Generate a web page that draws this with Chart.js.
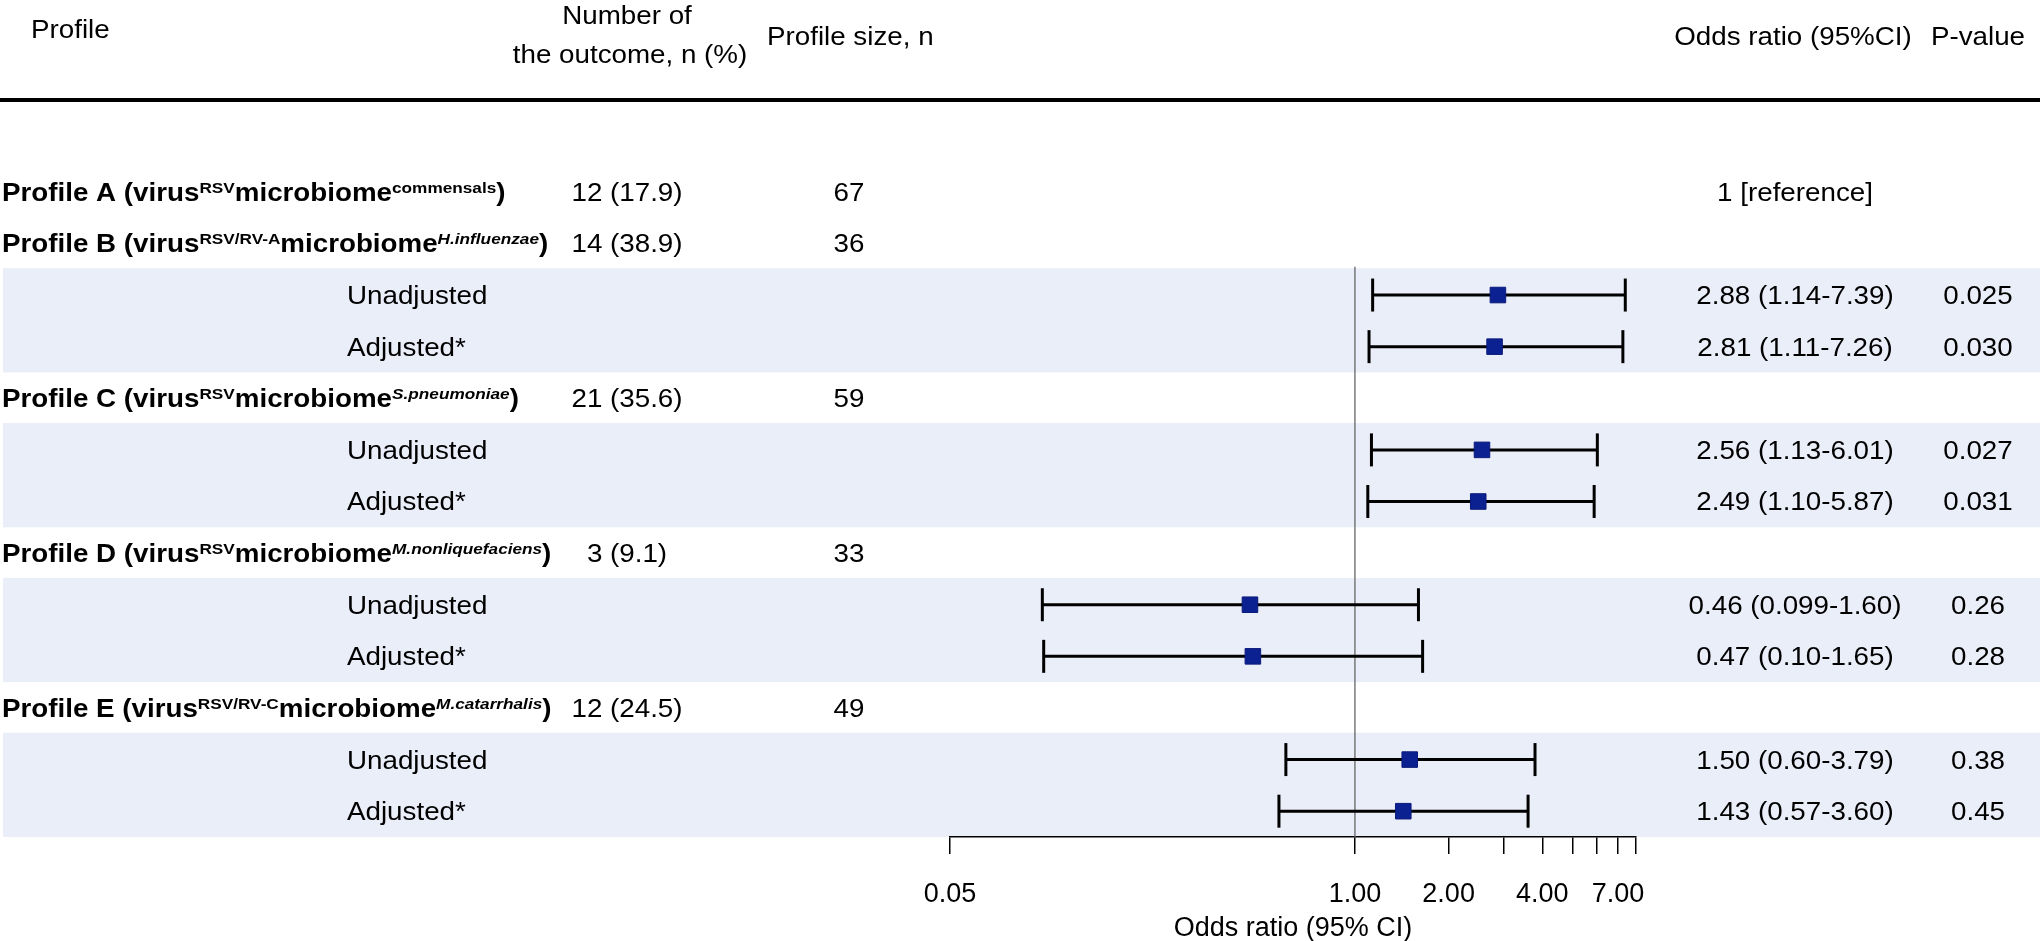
<!DOCTYPE html>
<html>
<head>
<meta charset="utf-8">
<script src="https://cdn.jsdelivr.net/npm/chart.js@4.4.0/dist/chart.umd.min.js"></script>
<style>
  html, body { margin: 0; padding: 0; background: #fff; }
  canvas { display: block; }
</style>
</head>
<body>
<canvas id="forest" width="2040" height="941"></canvas>
<script>
// table columns, one entry per profile
const profileLetters = ['A', 'B', 'C', 'D', 'E'];
const virusTags = ['RSV', 'RSV/RV-A', 'RSV', 'RSV', 'RSV/RV-C'];
const microbiomeTags = ['commensals', 'H.influenzae', 'S.pneumoniae', 'M.nonliquefaciens', 'M.catarrhalis'];
const outcomeCounts = ['12 (17.9)', '14 (38.9)', '21 (35.6)', '3 (9.1)', '12 (24.5)'];
const profileSizes = ['67', '36', '59', '33', '49'];

// odds ratios for profiles B-E vs A (reference)
const orUnadj = ['2.88', '2.56', '0.46', '1.50'];
const lowUnadj = ['1.14', '1.13', '0.099', '0.60'];
const highUnadj = ['7.39', '6.01', '1.60', '3.79'];
const pUnadj = ['0.025', '0.027', '0.26', '0.38'];
const orAdj = ['2.81', '2.49', '0.47', '1.43'];
const lowAdj = ['1.11', '1.10', '0.10', '0.57'];
const highAdj = ['7.26', '5.87', '1.65', '3.60'];
const pAdj = ['0.030', '0.031', '0.28', '0.45'];

const xTicks = [0.05, 1, 2, 3, 4, 5, 6, 7, 8];
const xTickLabels = ['0.05', '1.00', '2.00', '', '4.00', '', '', '7.00', ''];

const FAM = '"Liberation Sans", Arial, Helvetica, sans-serif';
const SX = 1.11;       // text in the table is a bit wide
const MAIN = 25;
const SUP = 15.5;

// build the rows: profile header row then Unadjusted / Adjusted* rows
const rows = [];
profileLetters.forEach(function (letter, k) {
  rows.push({ kind: 'profile', k: k });
  if (k === 0) return;
  const j = k - 1;
  rows.push({ kind: 'sub', label: 'Unadjusted', or: orUnadj[j], lo: lowUnadj[j], hi: highUnadj[j], p: pUnadj[j], k: k });
  rows.push({ kind: 'sub', label: 'Adjusted*', or: orAdj[j], lo: lowAdj[j], hi: highAdj[j], p: pAdj[j], k: k });
});
rows.forEach((r, i) => r.y = i);
const subRows = rows.filter(r => r.kind === 'sub');

// shaded bands behind the sub rows of each profile
const bands = [];
profileLetters.forEach(function (letter, k) {
  const ys = subRows.filter(r => r.k === k).map(r => r.y);
  if (ys.length) bands.push([Math.min(...ys) - 0.52, Math.max(...ys) + 0.5]);
});

const pointData = subRows.map(r => ({ x: Number(r.or), y: r.y }));
const capData = [];
subRows.forEach(function (r) {
  capData.push({ x: Number(r.lo), y: r.y });
  capData.push({ x: Number(r.hi), y: r.y });
});
const ciSets = subRows.map(r => ({
  data: [{ x: Number(r.lo), y: r.y }, { x: Number(r.hi), y: r.y }],
  showLine: true, borderColor: '#000', borderWidth: 3, pointRadius: 0
}));

function textW(ctx, s) { return ctx.measureText(s).width * SX; }

function drawText(ctx, s, x, y, align, font) {
  ctx.font = font;
  const w = textW(ctx, s);
  let left = x;
  if (align === 'center') left = x - w / 2;
  if (align === 'right') left = x - w;
  ctx.save();
  ctx.translate(left, y);
  ctx.scale(SX, 1);
  ctx.textAlign = 'left';
  ctx.textBaseline = 'alphabetic';
  ctx.fillText(s, 0, 0);
  ctx.restore();
  return w;
}

function drawProfileLabel(ctx, k, x, base) {
  const italic = k > 0 ? 'italic ' : '';
  const parts = [
    { s: 'Profile ' + profileLetters[k] + ' (virus', f: 'bold ' + MAIN + 'px ' + FAM, dy: 0 },
    { s: virusTags[k], f: 'bold ' + SUP + 'px ' + FAM, dy: -8 },
    { s: 'microbiome', f: 'bold ' + MAIN + 'px ' + FAM, dy: 0 },
    { s: microbiomeTags[k], f: italic + 'bold ' + SUP + 'px ' + FAM, dy: -8 },
    { s: ')', f: 'bold ' + MAIN + 'px ' + FAM, dy: 0 }
  ];
  parts.forEach(function (p) {
    x += drawText(ctx, p.s, x, base + p.dy, 'left', p.f);
  });
}

const bandPlugin = {
  id: 'bands',
  beforeDraw(chart) {
    const ctx = chart.ctx;
    const ys = chart.scales.y;
    ctx.save();
    ctx.fillStyle = '#eaeef8';
    bands.forEach(function (b) {
      const t = ys.getPixelForValue(b[0]);
      const btm = Math.min(ys.getPixelForValue(b[1]), chart.chartArea.bottom);
      ctx.fillRect(3, t, chart.width - 3, btm - t);
    });
    ctx.restore();
  }
};

const tablePlugin = {
  id: 'table',
  afterDraw(chart) {
    const ctx = chart.ctx;
    const ys = chart.scales.y;
    const reg = MAIN + 'px ' + FAM;
    const capHalf = MAIN * 0.716 / 2;
    ctx.save();
    ctx.fillStyle = '#000';

    // header
    drawText(ctx, 'Profile', 31, 29 + capHalf, 'left', reg);
    drawText(ctx, 'Number of', 627, 15 + capHalf, 'center', reg);
    drawText(ctx, 'the outcome, n (%)', 630, 54 + capHalf, 'center', reg);
    drawText(ctx, 'Profile size, n', 767, 36 + capHalf, 'left', reg);
    drawText(ctx, 'Odds ratio (95%CI)', 1793, 36 + capHalf, 'center', reg);
    drawText(ctx, 'P-value', 1978, 36 + capHalf, 'center', reg);
    ctx.fillRect(0, 98, chart.width, 4);

    rows.forEach(function (r) {
      const base = ys.getPixelForValue(r.y) + capHalf;
      if (r.kind === 'profile') {
        drawProfileLabel(ctx, r.k, 2, base);
        drawText(ctx, outcomeCounts[r.k], 627, base, 'center', reg);
        drawText(ctx, profileSizes[r.k], 849, base, 'center', reg);
        if (r.k === 0) drawText(ctx, '1 [reference]', 1795, base, 'center', reg);
      } else {
        drawText(ctx, r.label, 347, base, 'left', reg);
        drawText(ctx, r.or + ' (' + r.lo + '-' + r.hi + ')', 1795, base, 'center', reg);
        drawText(ctx, r.p, 1978, base, 'center', reg);
      }
    });
    ctx.restore();
  }
};

new Chart(document.getElementById('forest'), {
  type: 'scatter',
  data: {
    datasets: [
      {
        label: 'OR',
        data: pointData,
        pointStyle: 'rect',
        pointRadius: 11,
        backgroundColor: '#0c2191',
        borderColor: '#0a1a7a',
        borderWidth: 1
      },
      {
        label: 'caps',
        data: capData,
        pointStyle: 'line',
        rotation: 90,
        pointRadius: 16.5,
        borderColor: '#000',
        borderWidth: 3
      },
      ...ciSets,
      {
        label: 'ref',
        data: [{ x: 1, y: 1.45 }, { x: 1, y: 12.5 }],
        showLine: true,
        borderColor: '#666',
        borderWidth: 1.3,
        pointRadius: 0
      }
    ]
  },
  options: {
    responsive: false,
    devicePixelRatio: 1,
    animation: false,
    layout: { padding: { left: 950, right: 404, top: 166, bottom: 0 } },
    plugins: { legend: { display: false }, tooltip: { enabled: false } },
    scales: {
      x: {
        type: 'logarithmic',
        position: 'bottom',
        min: 0.05,
        max: 8,
        afterBuildTicks(scale) { scale.ticks = xTicks.map(v => ({ value: v })); },
        afterFit(scale) { scale.height = 104; },
        ticks: {
          autoSkip: false,
          maxRotation: 0,
          padding: 24,
          color: '#000',
          font: { family: FAM, size: 27 },
          callback: (v, i) => xTickLabels[i]
        },
        grid: { drawOnChartArea: false, drawTicks: true, tickLength: 17, color: '#000', lineWidth: 1.5 },
        border: { display: true, color: '#000', width: 1.5 },
        title: {
          display: true,
          text: 'Odds ratio (95% CI)',
          color: '#000',
          font: { family: FAM, size: 27 },
          padding: { top: 0, bottom: -4 }
        }
      },
      y: { type: 'linear', min: -0.5, max: 12.5, reverse: true, display: false }
    }
  },
  plugins: [bandPlugin, tablePlugin]
});
</script>
</body>
</html>
